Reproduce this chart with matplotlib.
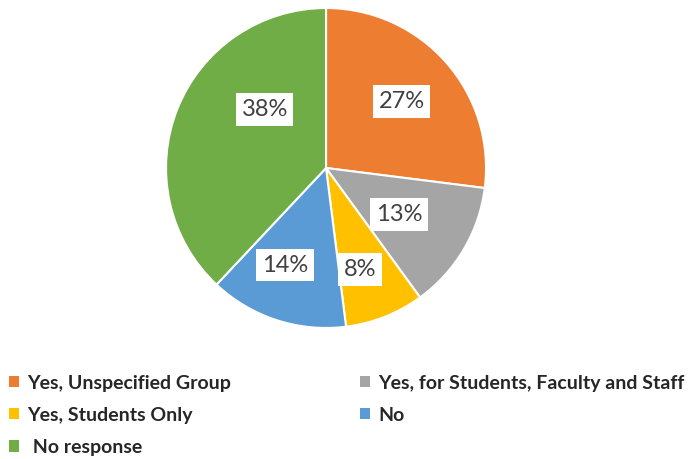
import numpy as np
import matplotlib
matplotlib.use('Agg')
import matplotlib.pyplot as plt
from matplotlib.patches import Patch

labels = ['Yes, Unspecified Group', 'Yes, for Students, Faculty and Staff',
          'Yes, Students Only', 'No', ' No response']
values = [27, 13, 8, 14, 38]
colors = ['#ED7D31', '#A5A5A5', '#FFC000', '#5B9BD5', '#70AD47']

# label placement (fraction of radius, angle offset in degrees)
label_dist = [0.63, 0.54, 0.67, 0.66, 0.53]
label_shift = [0, -2, -3, -5, -22]

fig = plt.figure(figsize=(6.95, 4.59), dpi=100)
ax = fig.add_axes([0.2389, 0.2854, 0.4604, 0.6972])

wedges, _ = ax.pie(values, colors=colors, startangle=90, counterclock=False,
                   wedgeprops=dict(edgecolor='white', linewidth=1.5))
ax.set_aspect('equal')
ax.set_xlim(-1.0, 1.0)
ax.set_ylim(-1.0, 1.0)

for w, v, d, s in zip(wedges, values, label_dist, label_shift):
    ang = np.deg2rad((w.theta1 + w.theta2) / 2 + s)
    ax.text(d * np.cos(ang), d * np.sin(ang), f'{v}%', ha='center', va='center',
            fontsize=17, color='#404040', family='Lato',
            bbox=dict(facecolor='white', edgecolor='none', pad=4))

order = [0, 2, 4, 1, 3]
handles = [Patch(facecolor=colors[i], label=labels[i]) for i in order]
fig.legend(handles=handles, ncol=2, loc='upper left', bbox_to_anchor=(-0.012, 0.222),
           frameon=False, prop=dict(family='Lato', weight='bold', size=14),
           handlelength=0.5, handleheight=0.5, handletextpad=0.45,
           columnspacing=6.6, labelspacing=0.78, labelcolor='#262626')

fig.savefig('out.png', dpi=100)
